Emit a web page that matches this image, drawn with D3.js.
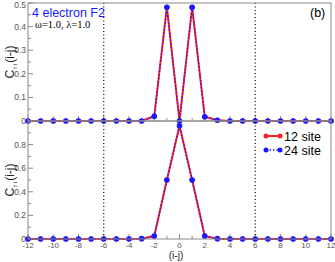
<!DOCTYPE html>
<html>
<head>
<meta charset="utf-8">
<script src="https://cdn.jsdelivr.net/npm/d3@7"></script>
<style>
  body { margin: 0; background: #fff; }
  text { font-family: "Liberation Sans", Arial, sans-serif; }
</style>
</head>
<body>
<div id="chart"></div>
<script>
// separation i-j
const sep = d3.range(-12, 13);
// C_up,up(i-j), top panel
const upUp12 = [0,0,0,0,0,0,0,0,0,0,0.02,0.482,0,0.482,0.018,0.003,0,0,0,0,0,0,0,0,0];
const upUp24 = [0,0,0,0,0,0,0,0,0,0,0.02,0.482,0,0.482,0.018,0.003,0,0,0,0,0,0,0,0,0];
// C_up,down(i-j), bottom panel
const upDn12 = [0,0,0,0,0,0,0,0,0,0.003,0.025,0.5,0.96,0.5,0.025,0.003,0,0,0,0,0,0,0,0,0];
const upDn24 = [0,0,0,0,0,0,0,0,0,0.003,0.025,0.5,0.96,0.5,0.025,0.003,0,0,0,0,0,0,0,0,0];
const xTicks = d3.range(-12, 13, 2);

const W = 335, H = 262;
const svg = d3.select("#chart").append("svg").attr("width", W).attr("height", H);

const x = d3.scaleLinear().domain([-12, 12]).range([28, 331]);
const yTop = d3.scaleLinear().domain([0, 0.5]).range([121, 3]);
const yBot = d3.scaleLinear().domain([0, 1]).range([239, 121]);

const frame = "#8a8a8a";

function panel(y, majors, minors, fmt, sets, showX) {
  const g = svg.append("g");
  // y ticks, pointing inward
  g.selectAll(".ymin").data(minors).enter().append("line")
    .attr("x1", x(-12)).attr("x2", x(-12) + 3)
    .attr("y1", d => y(d)).attr("y2", d => y(d))
    .attr("stroke", frame).attr("stroke-width", 1);
  g.selectAll(".ymaj").data(majors).enter().append("line")
    .attr("x1", x(-12)).attr("x2", x(-12) + 5)
    .attr("y1", d => y(d)).attr("y2", d => y(d))
    .attr("stroke", frame).attr("stroke-width", 1);
  g.selectAll(".ylab").data(majors).enter().append("text")
    .attr("x", x(-12) - 2).attr("y", d => Math.max(y(d) + 3, 8))
    .attr("text-anchor", "end").attr("font-size", 8.5).attr("fill", "#555")
    .text(fmt);
  // x ticks, pointing up
  const y0 = y.range()[0];
  g.selectAll(".xmin").data(sep).enter().append("line")
    .attr("x1", d => x(d)).attr("x2", d => x(d))
    .attr("y1", y0).attr("y2", y0 - 3)
    .attr("stroke", frame);
  g.selectAll(".xmaj").data(xTicks).enter().append("line")
    .attr("x1", d => x(d)).attr("x2", d => x(d))
    .attr("y1", y0).attr("y2", y0 - 5)
    .attr("stroke", frame);
  if (showX) {
    g.selectAll(".xlab").data(xTicks).enter().append("text")
      .attr("x", d => x(d)).attr("y", y0 + 8.5)
      .attr("text-anchor", "middle").attr("font-size", 8).attr("fill", "#555")
      .text(d => d);
  }
  // lines
  const line = d3.line().x((d, i) => x(sep[i])).y(d => y(d));
  g.append("path").datum(sets[0]).attr("d", line)
    .attr("fill", "none").attr("stroke", "#ff2020").attr("stroke-width", 2);
  g.selectAll(".rdot").data(sets[0]).enter().append("circle")
    .attr("cx", (d, i) => x(sep[i])).attr("cy", d => y(d)).attr("r", 2.5)
    .attr("fill", "#ff2020");
  g.append("path").datum(sets[1]).attr("d", line)
    .attr("fill", "none").attr("stroke", "#1a1aff").attr("stroke-width", 1.3)
    .attr("stroke-dasharray", "1.5,2");
  g.selectAll(".bdot").data(sets[1]).enter().append("circle")
    .attr("cx", (d, i) => x(sep[i])).attr("cy", d => y(d)).attr("r", 2.8)
    .attr("fill", "#1a1aff");
}

panel(yTop, [0, 0.1, 0.2, 0.3, 0.4, 0.5], d3.range(0.05, 0.5, 0.1),
  d => d === 0 ? "0" : d3.format(".1f")(d), [upUp12, upUp24], false);
panel(yBot, [0, 0.2, 0.4, 0.6, 0.8], d3.range(0.1, 1, 0.2),
  d => d === 0 ? "0" : d3.format(".1f")(d), [upDn12, upDn24], true);

// dotted verticals at +-6
svg.selectAll(".vdot").data([-6, 6]).enter().append("line")
  .attr("x1", d => x(d)).attr("x2", d => x(d))
  .attr("y1", yTop(0.5)).attr("y2", yBot(0))
  .attr("stroke", "#000").attr("stroke-width", 1.2).attr("stroke-dasharray", "1,2.5");

// frames
[[yTop(0.5), yTop(0)], [yBot(1), yBot(0)]].forEach(r => {
  svg.append("rect").attr("x", x(-12)).attr("y", r[0])
    .attr("width", x(12) - x(-12)).attr("height", r[1] - r[0])
    .attr("fill", "none").attr("stroke", frame).attr("stroke-width", 1);
});

// texts
svg.append("text").attr("x", 32).attr("y", 17).attr("font-size", 12.5)
  .attr("fill", "#1a1aff").text("4 electron F2");
svg.append("text").attr("x", 35).attr("y", 28).attr("font-size", 10.5)
  .style("font-family", "'Liberation Serif', 'Times New Roman', serif")
  .text("ω=1.0, λ=1.0");
svg.append("text").attr("x", 310).attr("y", 17).attr("font-size", 12.5).text("(b)");

function ylabel(cy, sub) {
  const t = svg.append("text").attr("transform", `translate(14,${cy}) rotate(-90)`)
    .attr("text-anchor", "middle").attr("font-size", 12).attr("fill", "#222");
  t.append("tspan").text("C");
  t.append("tspan").attr("font-size", 7).attr("dy", 3).text(sub);
  t.append("tspan").attr("dy", -3).text("(i-j)");
}
ylabel(62, "↑↑");
ylabel(180, "↑↓");

svg.append("text").attr("x", 176).attr("y", 259).attr("text-anchor", "middle")
  .attr("font-size", 10).attr("fill", "#222").text("(i-j)");

// legend
const leg = [["12 site", "#ff2020", null, 2], ["24 site", "#1a1aff", "1.5,2", 1.3]];
leg.forEach((l, i) => {
  const ly = 136 + i * 14;
  svg.append("line").attr("x1", 266).attr("x2", 280).attr("y1", ly).attr("y2", ly)
    .attr("stroke", l[1]).attr("stroke-width", l[3]).attr("stroke-dasharray", l[2]);
  svg.selectAll(null).data([266, 280]).enter().append("circle")
    .attr("cx", d => d).attr("cy", ly).attr("r", 2.5).attr("fill", l[1]);
  svg.append("text").attr("x", 284).attr("y", ly + 4.5).attr("font-size", 12.5)
    .text(l[0]);
});
</script>
</body>
</html>
